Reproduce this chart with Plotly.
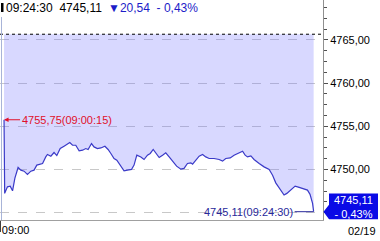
import plotly.graph_objects as go

# ---- data ----
times = ["09:00:15","09:00:18","09:00:31","09:00:44","09:00:55","09:01:06","09:01:21","09:01:34","09:01:49","09:02:05",
         "09:02:21","09:02:36","09:02:49","09:03:05","09:03:16","09:03:31","09:03:39","09:03:55","09:04:10","09:04:23",
         "09:04:39","09:04:57","09:05:13","09:05:24","09:05:37","09:05:52","09:06:08","09:06:24","09:06:39","09:06:50",
         "09:07:06","09:07:18","09:07:34","09:07:50","09:08:09","09:08:24","09:08:37","09:08:52","09:09:05","09:09:21",
         "09:09:39","09:09:55","09:10:14","09:10:26","09:10:39","09:10:58","09:11:13","09:11:29","09:11:42","09:11:56",
         "09:12:08","09:12:24","09:12:40","09:12:55","09:13:11","09:13:27","09:13:46","09:14:06","09:14:21","09:14:37",
         "09:14:53","09:15:01","09:15:16","09:15:32","09:15:48","09:16:03","09:16:19","09:16:42","09:17:06","09:17:22",
         "09:17:37","09:17:58","09:18:16","09:18:32","09:18:56","09:19:08","09:19:19","09:19:35","09:19:50","09:20:14",
         "09:20:37","09:21:01","09:21:17","09:21:32","09:21:48","09:22:11","09:22:24","09:22:43","09:23:03","09:23:22",
         "09:23:45","09:24:01","09:24:13","09:24:25","09:24:30"]
prices = [4755.75,4747.23,4747.99,4748.07,4747.53,4749.00,4750.23,4749.92,4749.80,4749.42,
          4749.80,4749.92,4750.50,4750.61,4750.69,4751.45,4751.73,4751.53,4751.96,4751.61,
          4752.42,4752.69,4753.00,4753.11,4752.80,4752.80,4752.15,4752.23,4752.42,4752.31,
          4753.00,4752.61,4752.42,4752.49,4752.69,4752.31,4751.85,4751.27,4751.07,4750.50,
          4749.84,4749.92,4750.00,4750.50,4751.65,4751.45,4751.15,4751.65,4751.85,4752.31,
          4751.85,4751.38,4751.65,4751.92,4751.45,4750.99,4750.38,4750.03,4750.12,4750.69,
          4750.76,4750.61,4751.07,4751.53,4751.73,4751.45,4751.27,4751.27,4751.15,4750.96,
          4751.27,4751.34,4751.65,4751.85,4752.11,4751.65,4751.45,4751.57,4751.15,4750.69,
          4750.30,4750.00,4749.34,4748.45,4747.88,4747.04,4747.23,4747.61,4748.07,4747.92,
          4747.69,4747.61,4747.12,4746.08,4745.11]
assert len(times) == len(prices)

prev_close = 4765.65
change = -20.54
change_pct = -0.43
x_tick_labels = ["09:00"]
y_tick_vals = [4745, 4750, 4755, 4760, 4765]
y_tick_text = ["", "4750,00", "4755,00", "4760,00", "4765,00"]
date_label = "02/19"
high_label = "4755,75(09:00:15)"
last_label = "4745,11(09:24:30)"
header_black = "09:24:30&nbsp;&nbsp;4745,11"
header_blue = "▼20,54&nbsp;&nbsp;- 0,43%"


def to_sec(s):
    h, m, sec = (int(p) for p in s.split(":"))
    return (h - 9) * 3600 + m * 60 + sec


secs = [to_sec(t) for t in times]
last_v = prices[-1]
last_t = secs[-1]

FONT = "Liberation Sans, Arial, sans-serif"
PW = 323.0   # plot width px
PH = 220.0   # plot height px

def px_x(p):
    return p / PW

def px_y(p):
    return (PH - p) / PH

fig = go.Figure()
fig.add_trace(go.Scatter(x=secs, y=[prev_close] * len(secs), mode="lines",
                         line=dict(width=0, color="rgba(0,0,0,0)"), hoverinfo="skip", showlegend=False))
fig.add_trace(go.Scatter(x=secs, y=prices, mode="lines", fill="tonexty",
                         fillcolor="rgba(110,110,255,0.27)",
                         line=dict(color="#3a3ac8", width=1.2), showlegend=False))

shapes = [
    dict(type="line", xref="paper", yref="y", x0=0, x1=px_x(322), y0=prev_close, y1=prev_close,
         line=dict(color="#000000", width=1, dash="3px,3px")),
    dict(type="line", xref="paper", yref="paper", x0=px_x(1.5), x1=px_x(1.5), y0=0, y1=px_y(17),
         line=dict(color="#a8b4d8", width=1)),
    dict(type="rect", xref="paper", yref="paper", x0=px_x(1), x1=px_x(3.5), y0=px_y(12), y1=px_y(3),
         fillcolor="#000000", line=dict(width=0)),
    dict(type="path", xref="paper", yref="y", layer="above",
         path=(f"M {px_x(329)},{last_v + 2.12} L {px_x(378)},{last_v + 2.12} "
               f"L {px_x(378)},{last_v - 0.88} L {px_x(329)},{last_v - 0.88} "
               f"L {px_x(323.5)},{last_v} L {px_x(329)},{last_v + 0.8} Z"),
         fillcolor="#0a0ae6", line=dict(width=0)),
]

annotations = [
    dict(xref="paper", yref="paper", x=px_x(4), y=px_y(8), xanchor="left", yanchor="middle",
         text=header_black, showarrow=False, font=dict(family=FONT, size=12, color="#000000")),
    dict(xref="paper", yref="paper", x=px_x(106), y=px_y(8), xanchor="left", yanchor="middle",
         text=header_blue, showarrow=False, font=dict(family=FONT, size=12, color="#1c1cc8")),
    dict(x=secs[0], y=prices[0], xref="x", yref="y", text=high_label, showarrow=True,
         ax=16, ay=0, xanchor="left", yanchor="middle", arrowhead=2, arrowsize=0.9, arrowwidth=1,
         arrowcolor="#e0102a", standoff=0, font=dict(family=FONT, size=11, color="#e0102a")),
    dict(x=last_t, y=last_v, xref="x", yref="y", text=last_label, showarrow=True,
         ax=-19, ay=0, xanchor="right", yanchor="middle", arrowhead=0, arrowwidth=1,
         arrowcolor="#28289a", standoff=0, font=dict(family=FONT, size=11, color="#28289a")),
    dict(xref="paper", yref="paper", x=px_x(353), y=px_y(206.5), xanchor="center", yanchor="middle",
         text=f"{last_v:.2f}".replace(".", ",") + "<br>- " + f"{abs(change_pct):.2f}".replace(".", ",") + "%",
         showarrow=False, font=dict(family=FONT, size=11, color="#ffffff")),
    dict(xref="paper", yref="paper", x=px_x(378), y=px_y(231), xanchor="right", yanchor="middle",
         text=date_label, showarrow=False, font=dict(family=FONT, size=11, color="#000000")),
]

fig.update_layout(
    width=380, height=241,
    margin=dict(l=0, r=57, t=0, b=21, pad=0),
    paper_bgcolor="#ffffff", plot_bgcolor="#ffffff",
    shapes=shapes, annotations=annotations,
    showlegend=False,
    xaxis=dict(range=[-4, 1514], tickmode="array", tickvals=[0], ticktext=x_tick_labels,
               ticks="outside", ticklen=11, tickcolor="#404040", ticklabelposition="outside right",
               showline=True, linecolor="#a0a0a0", linewidth=1, showgrid=False, zeroline=False,
               tickfont=dict(family=FONT, size=11, color="#000000"), fixedrange=True),
    yaxis=dict(range=[4744.15, 4769.61], side="right", tickmode="array",
               tickvals=y_tick_vals, ticktext=y_tick_text,
               ticks="outside", ticklen=4, tickcolor="#505050",
               showline=True, linecolor="#909090", linewidth=1,
               showgrid=True, gridcolor="#c8c8c8", griddash="dash", gridwidth=1, zeroline=False,
               minor=dict(tick0=4745, dtick=1.25, ticks="outside", ticklen=3, tickcolor="#505050", showgrid=False),
               tickfont=dict(family=FONT, size=11, color="#000000")),
)

fig.write_html("out.html")
